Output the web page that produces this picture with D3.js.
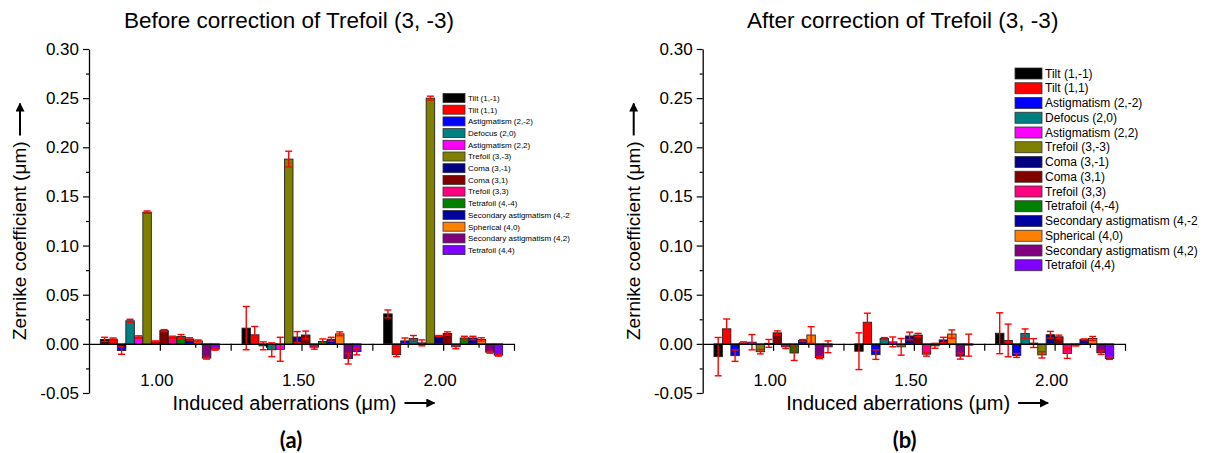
<!DOCTYPE html>
<html>
<head>
<meta charset="utf-8">
<script src="https://cdn.jsdelivr.net/npm/d3@7"></script>
<style>
  body { margin: 0; background: #fff; }
  svg { display: block; font-family: "Liberation Sans", Arial, sans-serif; }
</style>
</head>
<body>
<svg id="chart" width="1208" height="453"></svg>
<script>
// Zernike terms, same order as the legend
const terms = [
  "Tilt (1,-1)", "Tilt (1,1)", "Astigmatism (2,-2)", "Defocus (2,0)",
  "Astigmatism (2,2)", "Trefoil (3,-3)", "Coma (3,-1)", "Coma (3,1)",
  "Trefoil (3,3)", "Tetrafoil (4,-4)", "Secondary astigmatism (4,-2)",
  "Spherical (4,0)", "Secondary astigmatism (4,2)", "Tetrafoil (4,4)"
];
const termColors = [
  "#000000", "#ff0000", "#0000ff", "#008080", "#ff00ff", "#808000", "#000080",
  "#800000", "#ff0080", "#008000", "#0000a0", "#ff8000", "#800080", "#8000ff"
];

const aberrations = [1.0, 1.5, 2.0];
const xTickLabels = ["1.00", "1.50", "2.00"];
const yTickValues = [-0.05, 0, 0.05, 0.10, 0.15, 0.20, 0.25, 0.30];

// before correction: one row per induced aberration
const beforeMean = [
  [0.0045, 0.0048, -0.0068, 0.0235, 0.0070, 0.1340, 0.0020, 0.0135, 0.0068, 0.0075, 0.0050, 0.0030, -0.0145, -0.0054],
  [0.0160, 0.0092, -0.0020, -0.0060, -0.0055, 0.1880, 0.0070, 0.0090, -0.0034, 0.0025, 0.0047, 0.0102, -0.0150, -0.0078],
  [0.0305, -0.0110, 0.0030, 0.0055, 0.0010, 0.2500, 0.0080, 0.0105, -0.0030, 0.0060, 0.0060, 0.0045, -0.0085, -0.0115]
];
const beforeErr = [
  [0.0022, 0.0012, 0.0038, 0.0015, 0.0012, 0.0012, 0.0010, 0.0010, 0.0010, 0.0020, 0.0012, 0.0010, 0.0010, 0.0010],
  [0.0220, 0.0085, 0.0040, 0.0070, 0.0122, 0.0080, 0.0055, 0.0040, 0.0020, 0.0025, 0.0020, 0.0020, 0.0055, 0.0034],
  [0.0040, 0.0020, 0.0030, 0.0030, 0.0030, 0.0020, 0.0005, 0.0017, 0.0020, 0.0017, 0.0017, 0.0017, 0.0010, 0.0010]
];

// after correction
const afterMean = [
  [-0.0130, 0.0153, -0.0120, 0.0010, 0.0017, -0.0080, 0.0005, 0.0112, -0.0030, -0.0093, 0.0034, 0.0090, -0.0140, -0.0030],
  [-0.0075, 0.0220, -0.0110, 0.0054, 0.0020, -0.0030, 0.0080, 0.0090, -0.0105, -0.0020, 0.0040, 0.0100, -0.0125, -0.0013],
  [0.0108, 0.0035, -0.0118, 0.0105, 0.0008, -0.0112, 0.0093, 0.0072, -0.0098, -0.0012, 0.0045, 0.0055, -0.0090, -0.0148]
];
const afterErr = [
  [0.0195, 0.0100, 0.0058, 0.0010, 0.0078, 0.0022, 0.0040, 0.0020, 0.0017, 0.0076, 0.0010, 0.0085, 0.0010, 0.0060],
  [0.0187, 0.0092, 0.0048, 0.0010, 0.0050, 0.0085, 0.0039, 0.0017, 0.0020, 0.0025, 0.0027, 0.0042, 0.0030, 0.0112],
  [0.0208, 0.0166, 0.0020, 0.0047, 0.0045, 0.0032, 0.0034, 0.0017, 0.0050, 0.0010, 0.0005, 0.0020, 0.0017, 0.0010]
];

const svg = d3.select("#chart");

const defs = svg.append("defs");
defs.append("marker")
  .attr("id", "arrow")
  .attr("viewBox", "0 0 10 10")
  .attr("refX", 9).attr("refY", 5)
  .attr("markerWidth", 4.5).attr("markerHeight", 4.5)
  .attr("markerUnits", "strokeWidth")
  .attr("orient", "auto")
  .append("path")
  .attr("d", "M0,0L10,5L0,10Z")
  .attr("fill", "#000");

drawPanel({
  id: "a", left: 89, right: 514, title: "Before correction of Trefoil (3, -3)",
  legX: 443, legY: 98, legStep: 11.7, swW: 22, swH: 9, legFont: 8
}, beforeMean, beforeErr);

drawPanel({
  id: "b", left: 702.7, right: 1125, title: "After correction of Trefoil (3, -3)",
  legX: 1015, legY: 73.5, legStep: 14.75, swW: 27, swH: 11, legFont: 12
}, afterMean, afterErr);

function drawPanel(cfg, means, errs) {
  const g = svg.append("g");
  const x = d3.scaleLinear().domain([0.75, 2.25]).range([cfg.left, cfg.right]);
  const y = d3.scaleLinear().domain([-0.05, 0.30]).range([393, 49]);
  const barW = 0.03;

  // flatten into one record per bar
  const bars = [];
  aberrations.forEach((a, gi) => {
    terms.forEach((t, ti) => {
      bars.push({
        x0: a + (ti - 7) * barW,
        x1: a + (ti - 6) * barW,
        v: means[gi][ti],
        e: errs[gi][ti],
        color: termColors[ti]
      });
    });
  });

  g.selectAll(".bar")
    .data(bars)
    .enter()
    .append("rect")
    .attr("x", (d) => x(d.x0))
    .attr("width", (d) => x(d.x1) - x(d.x0))
    .attr("y", (d) => y(Math.max(d.v, 0)))
    .attr("height", (d) => Math.abs(y(d.v) - y(0)))
    .attr("fill", (d) => d.color)
    .attr("stroke", "#222")
    .attr("stroke-width", 0.9);

  // error bars
  const eb = g.selectAll(".err")
    .data(bars)
    .enter()
    .append("g")
    .attr("stroke", "#ff0000")
    .attr("stroke-width", 1.4);
  eb.append("line")
    .attr("x1", (d) => x((d.x0 + d.x1) / 2))
    .attr("x2", (d) => x((d.x0 + d.x1) / 2))
    .attr("y1", (d) => y(d.v - d.e))
    .attr("y2", (d) => y(d.v + d.e));
  [-1, 1].forEach((s) => {
    eb.append("line")
      .attr("x1", (d) => x((d.x0 + d.x1) / 2) - 3.5)
      .attr("x2", (d) => x((d.x0 + d.x1) / 2) + 3.5)
      .attr("y1", (d) => y(d.v + s * d.e))
      .attr("y2", (d) => y(d.v + s * d.e));
  });

  // y axis
  const yAxis = g.append("g")
    .attr("transform", "translate(" + cfg.left + ",0)")
    .call(d3.axisLeft(y).tickValues(yTickValues).tickSize(6).tickSizeOuter(0)
      .tickPadding(4).tickFormat((d) => d.toFixed(2)));
  g.append("g")
    .attr("transform", "translate(" + cfg.left + ",0)")
    .call(d3.axisLeft(y).tickValues(yTickValues.slice(0, -1).map((v) => v + 0.025))
      .tickSize(3).tickSizeOuter(0).tickFormat(""))
    .select(".domain").remove();

  // x axis sits on zero
  g.append("g")
    .attr("transform", "translate(0," + y(0) + ")")
    .call(d3.axisBottom(x).tickValues([1.0, 1.25, 1.5, 1.75, 2.0, 2.25])
      .tickSize(7).tickSizeOuter(0).tickFormat(""));
  g.append("g")
    .attr("transform", "translate(0," + y(0) + ")")
    .call(d3.axisBottom(x).tickValues([0.875, 1.125, 1.375, 1.625, 1.875, 2.125])
      .tickSize(4).tickSizeOuter(0).tickFormat(""))
    .select(".domain").remove();

  g.selectAll(".domain").attr("stroke", "#000").attr("stroke-width", 1.3);
  g.selectAll(".tick line").attr("stroke", "#000").attr("stroke-width", 1.2);
  yAxis.selectAll("text").attr("font-size", 17).attr("fill", "#000")
    .attr("font-family", "Liberation Sans, Arial, sans-serif");

  g.selectAll(".xlab")
    .data(aberrations)
    .enter()
    .append("text")
    .attr("x", (d) => x(d) - 3)
    .attr("y", 386)
    .attr("text-anchor", "middle")
    .attr("font-size", 17)
    .text((d, i) => xTickLabels[i]);

  // titles
  g.append("text")
    .attr("x", cfg.left + 200)
    .attr("y", 28)
    .attr("text-anchor", "middle")
    .attr("font-size", 22.5)
    .text(cfg.title);

  const xl = g.append("text")
    .attr("x", cfg.left + 195.5)
    .attr("y", 410)
    .attr("text-anchor", "middle")
    .attr("font-size", 20)
    .text("Induced aberrations (\u03bcm)");
  const xlEnd = cfg.left + 195.5 + xl.node().getComputedTextLength() / 2;
  g.append("line")
    .attr("x1", xlEnd + 8).attr("x2", xlEnd + 38)
    .attr("y1", 403).attr("y2", 403)
    .attr("stroke", "#000").attr("stroke-width", 2)
    .attr("marker-end", "url(#arrow)");

  const ylX = cfg.left - 63;
  const yl = g.append("text")
    .attr("transform", "translate(" + ylX + ",340) rotate(-90)")
    .attr("font-size", 19)
    .text("Zernike coefficient (\u03bcm)");
  const ylEnd = 340 - yl.node().getComputedTextLength();
  g.append("line")
    .attr("x1", ylX - 6).attr("x2", ylX - 6)
    .attr("y1", ylEnd - 6).attr("y2", ylEnd - 38)
    .attr("stroke", "#000").attr("stroke-width", 2)
    .attr("marker-end", "url(#arrow)");

  g.append("text")
    .attr("x", cfg.left + 202)
    .attr("y", 448)
    .attr("text-anchor", "middle")
    .attr("font-size", 22)
    .attr("font-weight", "bold")
    .attr("font-family", "Lato, 'Open Sans', sans-serif")
    .text("(" + cfg.id + ")");

  // legend
  const leg = g.append("g");
  const rows = leg.selectAll(".leg")
    .data(terms)
    .enter()
    .append("g")
    .attr("transform", (d, i) => "translate(" + cfg.legX + "," + (cfg.legY + i * cfg.legStep) + ")");
  rows.append("rect")
    .attr("x", 0).attr("y", -cfg.swH / 2)
    .attr("width", cfg.swW).attr("height", cfg.swH)
    .attr("fill", (d, i) => termColors[i])
    .attr("stroke", "#333").attr("stroke-width", 0.8);
  const texts = rows.append("text")
    .attr("x", cfg.swW + 3)
    .attr("dy", "0.35em")
    .attr("font-size", cfg.legFont)
    .text((d) => d);

  // the source image is cut just after the longest label
  const longest = texts.filter((d, i) => i === 12).node().getComputedTextLength();
  const clipId = "legclip-" + cfg.id;
  defs.append("clipPath").attr("id", clipId)
    .append("rect")
    .attr("x", cfg.legX - 2).attr("y", 0)
    .attr("width", cfg.swW + 3 + longest + 2.5).attr("height", 453);
  leg.attr("clip-path", "url(#" + clipId + ")");
}
</script>
</body>
</html>
